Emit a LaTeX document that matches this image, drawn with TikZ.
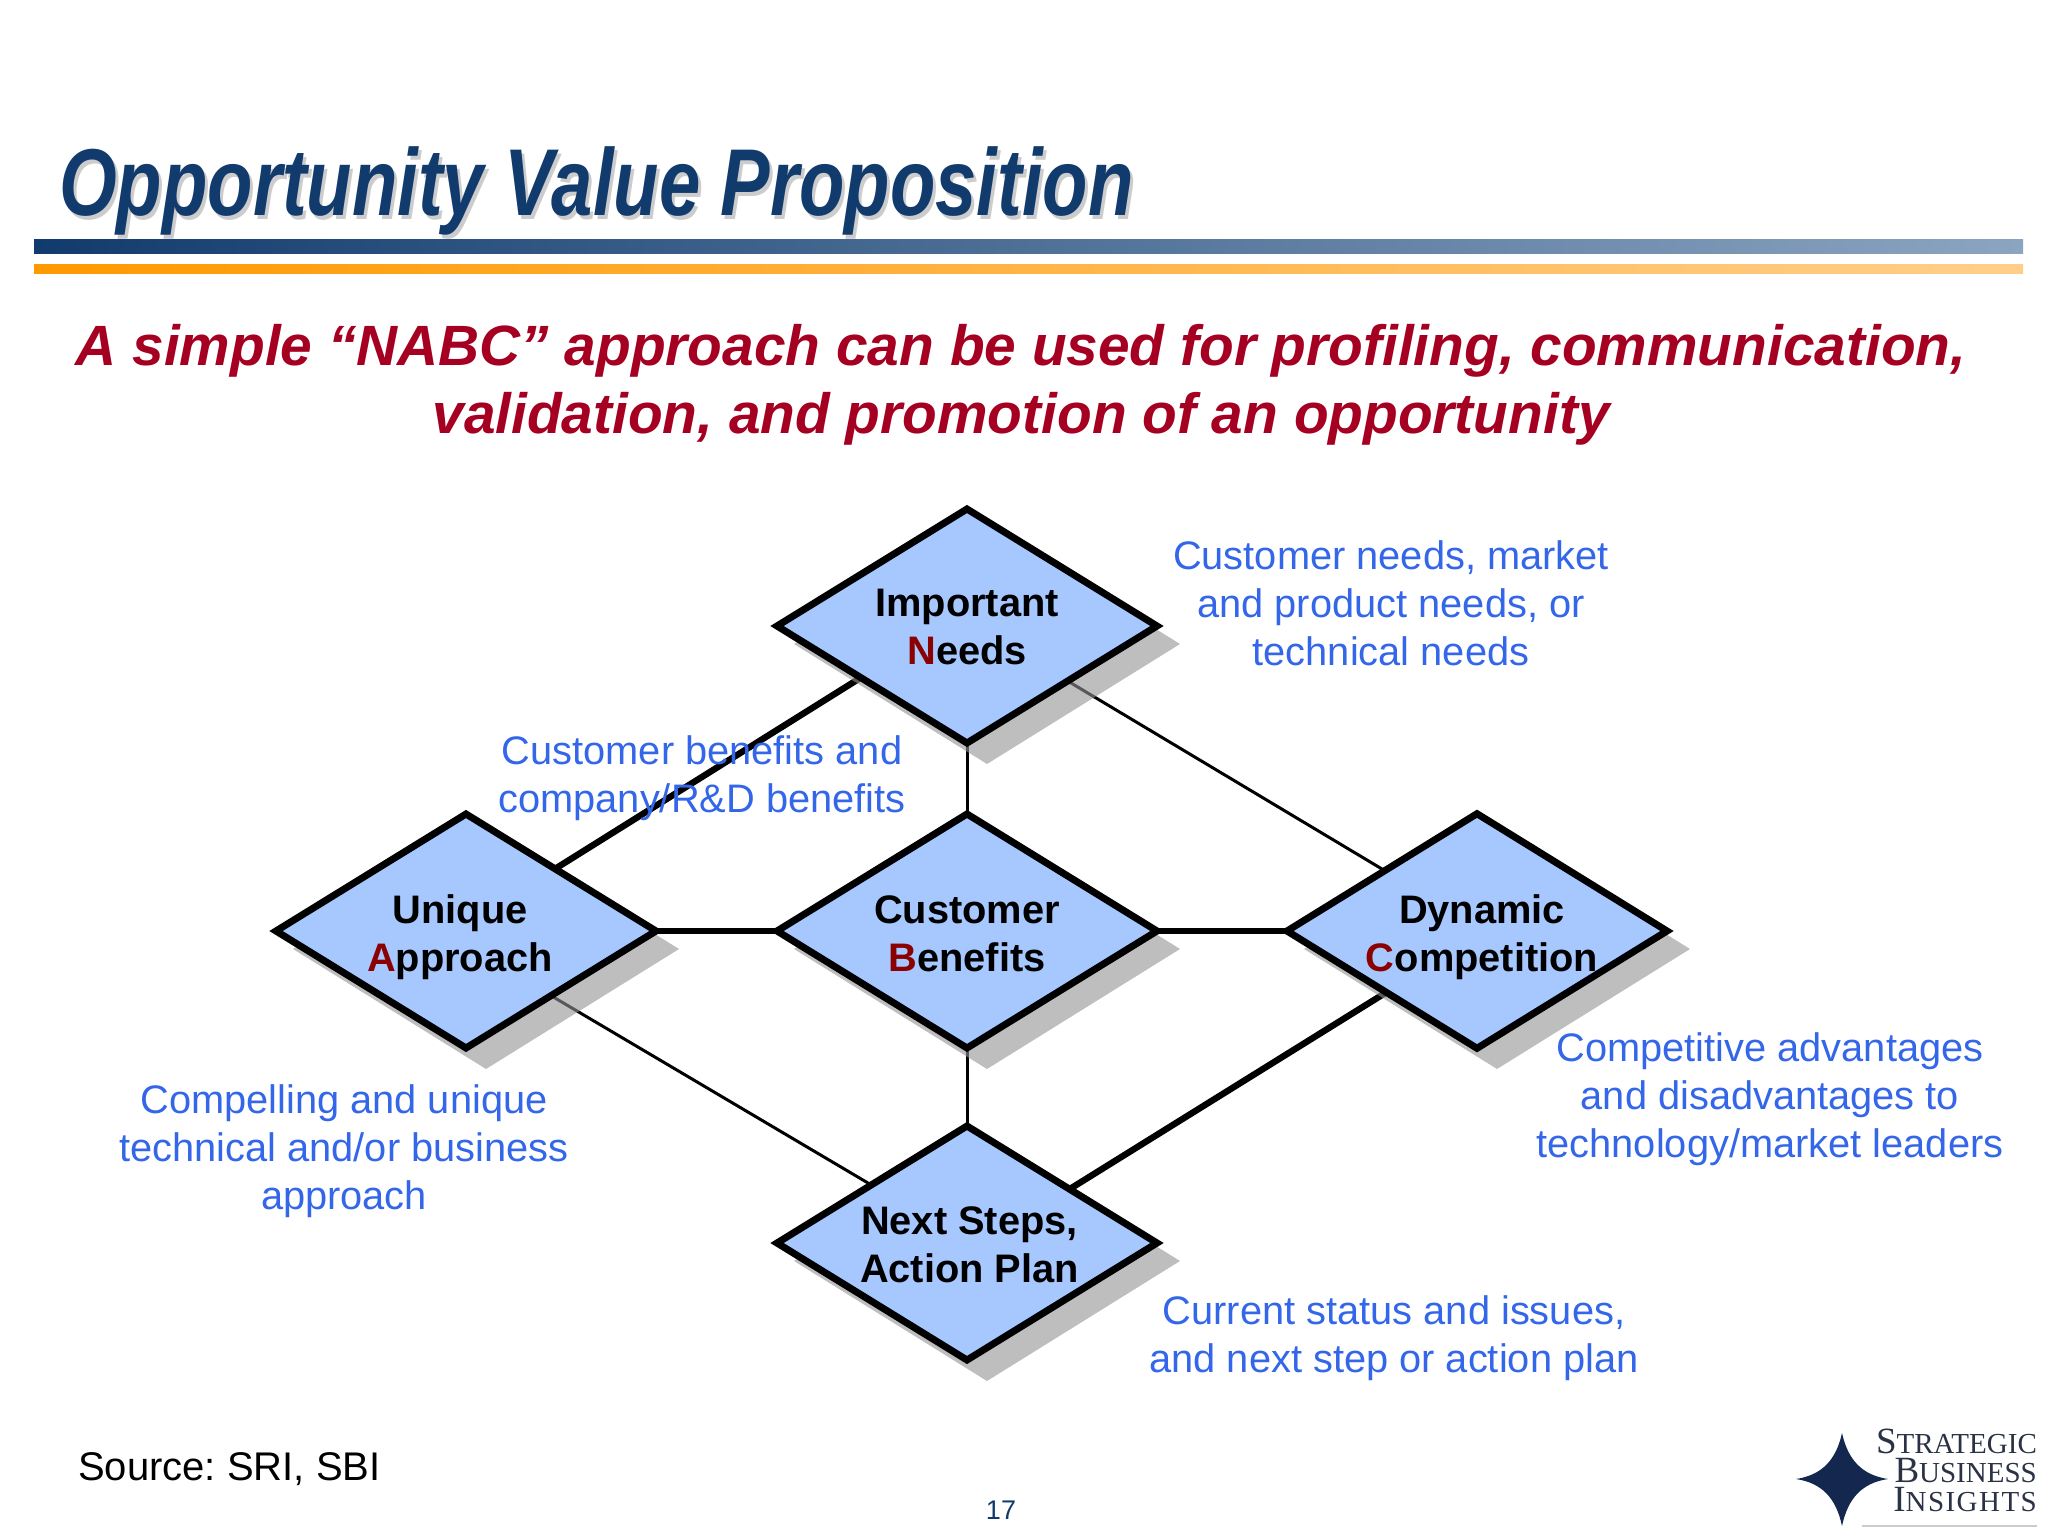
\documentclass[tikz,border=0pt]{standalone}
\usepackage{fontspec}
\setmainfont{Liberation Sans}
\newfontfamily\logofont{Liberation Serif}
\usetikzlibrary{shapes.geometric,calc}
\pgfdeclarelayer{connlayer}
\pgfdeclarelayer{shadelayer}
\pgfsetlayers{connlayer,shadelayer,main}
\definecolor{navy}{HTML}{123B6D}
\definecolor{navyend}{HTML}{8BA5C1}
\definecolor{orangeA}{HTML}{FF9900}
\definecolor{orangeB}{HTML}{FFCF8A}
\definecolor{headred}{HTML}{A50021}
\definecolor{darkred}{HTML}{8B0000}
\definecolor{lblue}{HTML}{3366E8}
\definecolor{dfill}{HTML}{A6C8FF}
\definecolor{starblue}{HTML}{14284F}
\definecolor{logotext}{HTML}{2A3345}
\definecolor{shadegray}{HTML}{939393}
\newcommand{\rl}[1]{\textcolor{darkred}{#1}}
\newcommand{\dn}[2]{\raisebox{-#1pt}[\height][\depth]{#2}}
\newcommand{\lgword}[2]{{\fontsize{37}{29}\selectfont #1}{\fontsize{29}{29}\selectfont #2}}
\tikzset{
  x=1pt,y=-1pt,
  nabc/.style={shape=diamond,shape aspect=1.62,draw=black,line width=7pt,fill=dfill,minimum width=380pt,minimum height=234pt,inner sep=0pt,outer sep=0pt,align=center,miter limit=10,
    font=\fontsize{39.8}{48}\selectfont\bfseries,text=black},
  shade d/.style={shape=diamond,shape aspect=1.62,fill=shadegray,fill opacity=.6,minimum width=386pt,minimum height=240pt,inner sep=0pt,outer sep=0pt,xshift=20pt,yshift=-18pt},
  desc/.style={inner sep=0pt,align=center,text=lblue,font=\fontsize{39.8}{48}\selectfont},
  heavy/.style={line width=6.4pt,draw=black,shorten <=-4pt,shorten >=-4pt},
  light/.style={line width=3pt,draw=black,shorten <=-4pt,shorten >=-4pt},
  head/.style={inner sep=0pt,align=center,text=headred,font=\fontsize{56.8}{68}\selectfont\bfseries\itshape},
  ttl/.style={inner sep=0pt,anchor=base west,font=\fontsize{95}{95}\selectfont\bfseries\itshape},
  logotxt/.style={inner sep=0pt,anchor=north east,align=right,text=logotext,font=\logofont\fontsize{29}{29}\selectfont},
}
\begin{document}
\frenchspacing
\begin{tikzpicture}
\useasboundingbox (0,0) rectangle (2048,1536);
% title
\node[ttl,text=black!20] (titleS) at (62,219) {\scalebox{0.782}[1]{Opportunity Value Proposition}};
\node[ttl,text=navy] (title) at (59,215.5) {\scalebox{0.782}[1]{Opportunity Value Proposition}};
% bars
\shade[left color=navy,right color=navyend] (34,239) rectangle (2023,253);
\shade[left color=orangeA,right color=orangeB] (34,264) rectangle (2023,273);
% heading
\node[head] (heading) at (1021,385) {A simple “NABC” approach can be used for profiling, communication,\\validation, and promotion of an opportunity};
% diamonds
\node[nabc] (needs) at (967,626) {\dn{1}{Important}\\\dn{1}{\rl{N}eeds}};
\node[nabc] (unique) at (466,931) {\dn{6}{Unique}\hspace*{12pt}\\\dn{6}{\rl{A}pproach}\hspace*{12pt}};
\node[nabc] (benefits) at (967,931) {\dn{2.6}{Customer}\\\dn{2.6}{\rl{B}enefits}};
\node[nabc] (comp) at (1477,931) {\hspace*{10pt}\dn{6}{Dynamic}\\\hspace*{10pt}\dn{6}{\rl{C}ompetition}};
\node[nabc] (next) at (967,1243) {\hspace*{5pt}\dn{1.5}{Next Steps,}\\\hspace*{5pt}\dn{1.5}{Action Plan}};
\begin{pgfonlayer}{shadelayer}
\node[shade d] (needsS) at (needs) {};
\node[shade d] (uniqueS) at (unique) {};
\node[shade d] (benefitsS) at (benefits) {};
\node[shade d] (compS) at (comp) {};
\node[shade d] (nextS) at (next) {};
\end{pgfonlayer}
\begin{pgfonlayer}{connlayer}
\draw[heavy] ($(unique)+(92,-64)$) -- ($(needs)+(-110,54)$);
\draw[light] ($(needs)+(104,57)$) -- ($(comp)+(-95,-62)$);
\draw[light] ($(unique)+(89,67)$) -- ($(next)+(-99,-60)$);
\draw[heavy] ($(comp)+(-95,64)$) -- ($(next)+(106,-56)$);
\draw[light] (needs.south) -- (benefits.north);
\draw[light] (benefits.south) -- (next.north);
\draw[heavy] (unique.east) -- (benefits.west);
\draw[heavy] (benefits.east) -- (comp.west);
\end{pgfonlayer}
% descriptions
\node[desc] (dNeeds) at (1391,603) {Customer needs, market\\and product needs, or\\technical needs};
\node[desc] (dBen) at (702,778) {Customer benefits and\\company/R\&D benefits};
\node[desc] (dApp) at (344,1151) {Compelling and unique\\technical and/or business\\approach};
\node[desc] (dComp) at (1770,1099) {Competitive advantages\\and disadvantages to\\technology/market leaders};
\node[desc] (dNext) at (1394,1338) {Current status and issues,\\and next step or action plan};
% footer
\node[inner sep=0pt,anchor=base west,font=\fontsize{40}{48}\selectfont] (source) at (78,1480) {Source: SRI, SBI};
\node[inner sep=0pt,anchor=base,text=navy,font=\fontsize{27}{32}\selectfont] (page) at (1001,1519) {17};
% logo
\fill[starblue] (1842,1433) .. controls (1848,1460) and (1862,1475) .. (1888,1479)
  .. controls (1862,1483) and (1848,1498) .. (1842,1526)
  .. controls (1836,1498) and (1822,1483) .. (1796,1479)
  .. controls (1822,1475) and (1836,1460) .. (1842,1433) -- cycle;
\node[logotxt] (logo) at (2037,1429) {\lgword{S}{TRATEGIC}\\\lgword{B}{USINESS}\\\addfontfeature{LetterSpace=5}\lgword{I}{NSIGHTS}};
\draw[gray!40,line width=1.5pt] (1862,1526) -- (2037,1526);
\end{tikzpicture}
\end{document}
